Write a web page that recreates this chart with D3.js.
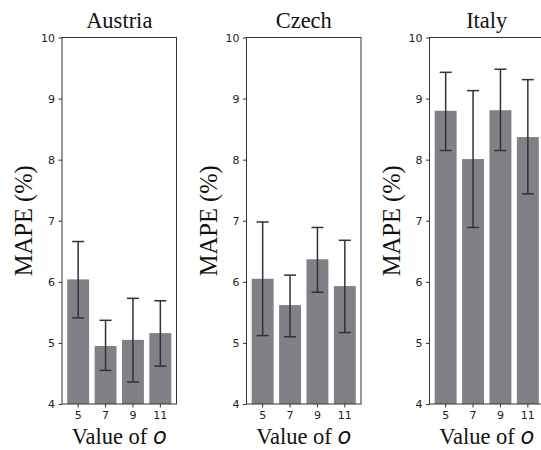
<!DOCTYPE html>
<html>
<head>
<meta charset="utf-8">
<script src="https://cdn.jsdelivr.net/npm/d3@7"></script>
<style>
  html, body { margin: 0; padding: 0; background: #fff; }
  svg { display: block; }
</style>
</head>
<body>
<svg id="chart" width="541" height="450"></svg>
<script>
// ---- data ----
const categories = ["5", "7", "9", "11"];
const countries = ["Austria", "Czech", "Italy"];
const austriaMean = [6.04, 4.95, 5.05, 5.16];
const austriaLow  = [5.41, 4.55, 4.36, 4.62];
const austriaHigh = [6.66, 5.37, 5.73, 5.69];
const czechMean = [6.05, 5.62, 6.37, 5.93];
const czechLow  = [5.12, 5.10, 5.83, 5.17];
const czechHigh = [6.98, 6.11, 6.89, 6.68];
const italyMean = [8.80, 8.01, 8.81, 8.37];
const italyLow  = [8.15, 6.89, 8.15, 7.44];
const italyHigh = [9.43, 9.13, 9.48, 9.31];
const yTicks = [4, 5, 6, 7, 8, 9, 10];
const yLabel = "MAPE (%)";
const xLabelText = "Value of ";
const xLabelSymbol = "o";

const panels = [
  { name: countries[0], mean: austriaMean, low: austriaLow, high: austriaHigh },
  { name: countries[1], mean: czechMean, low: czechLow, high: czechHigh },
  { name: countries[2], mean: italyMean, low: italyLow, high: italyHigh }
];

// ---- layout ----
const SERIF = '"Liberation Serif", "Times New Roman", serif';
const SANS = '"DejaVu Sans", sans-serif';
const svg = d3.select("#chart");
const lefts = [62, 246.5, 429.5];
const pw = 114.5;
const plotTop = 37.5, plotBottom = 404;
const barColor = "#7f8186";
const errColor = "#2f3236";

const y = d3.scaleLinear().domain([4, 10]).range([plotBottom, plotTop]);

panels.forEach((p, i) => {
  const x0 = lefts[i];
  const g = svg.append("g");
  const x = d3.scaleBand().domain(categories).range([x0, x0 + pw])
    .paddingInner(0.2).paddingOuter(0.19);

  // bars
  g.selectAll("rect.bar").data(categories).enter().append("rect")
    .attr("class", "bar")
    .attr("x", d => x(d))
    .attr("width", x.bandwidth())
    .attr("y", (d, j) => y(p.mean[j]))
    .attr("height", (d, j) => y(4) - y(p.mean[j]))
    .attr("fill", barColor);

  // error bars
  const cap = 6;
  const cx = d => x(d) + x.bandwidth() / 2;
  const eg = g.selectAll("g.err").data(categories).enter().append("g").attr("class", "err")
    .attr("stroke", errColor).attr("stroke-width", 1.5);
  eg.append("line")
    .attr("x1", cx).attr("x2", cx)
    .attr("y1", (d, j) => y(p.low[j])).attr("y2", (d, j) => y(p.high[j]));
  eg.append("line")
    .attr("x1", d => cx(d) - cap).attr("x2", d => cx(d) + cap)
    .attr("y1", (d, j) => y(p.low[j])).attr("y2", (d, j) => y(p.low[j]));
  eg.append("line")
    .attr("x1", d => cx(d) - cap).attr("x2", d => cx(d) + cap)
    .attr("y1", (d, j) => y(p.high[j])).attr("y2", (d, j) => y(p.high[j]));

  // frame (spines)
  g.append("rect")
    .attr("x", x0).attr("y", plotTop).attr("width", pw).attr("height", plotBottom - plotTop)
    .attr("fill", "none").attr("stroke", "#333").attr("stroke-width", 1);

  // axes
  const yAxis = d3.axisLeft(y).tickValues(yTicks).tickFormat(d3.format("d"))
    .tickSize(3.5).tickPadding(3.5);
  const ya = g.append("g").attr("transform", `translate(${x0},0)`).call(yAxis);
  ya.select(".domain").remove();
  ya.selectAll("text").style("font-family", SANS).style("font-size", "11px").attr("fill", "#222");
  ya.selectAll("line").attr("stroke", "#333");

  const xAxis = d3.axisBottom(x).tickSize(3.5).tickPadding(3.5);
  const xa = g.append("g").attr("transform", `translate(0,${plotBottom})`).call(xAxis);
  xa.select(".domain").remove();
  xa.selectAll("text").style("font-family", SANS).style("font-size", "11px").attr("fill", "#222");
  xa.selectAll("line").attr("stroke", "#333");

  // title
  g.append("text")
    .attr("x", x0 + pw / 2).attr("y", 28)
    .attr("text-anchor", "middle")
    .style("font-family", SERIF).style("font-size", "22.5px")
    .attr("fill", "#111")
    .text(p.name);

  // y label
  g.append("text")
    .attr("transform", `translate(${x0 - 30},${(plotTop + plotBottom) / 2}) rotate(-90)`)
    .attr("text-anchor", "middle")
    .style("font-family", SERIF).style("font-size", "24.5px")
    .attr("fill", "#111")
    .text(yLabel);

  // x label
  const xl = g.append("text")
    .attr("x", x0 + pw / 2).attr("y", 443.5)
    .attr("text-anchor", "middle")
    .style("font-family", SERIF).style("font-size", "22.5px")
    .attr("fill", "#111");
  xl.append("tspan").text(xLabelText);
  xl.append("tspan").style("font-family", SANS).style("font-style", "italic").text(xLabelSymbol);
});
</script>
</body>
</html>
